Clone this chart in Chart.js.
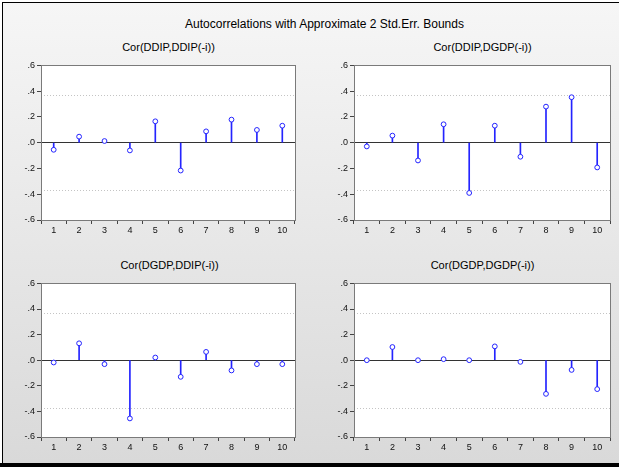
<!DOCTYPE html>
<html>
<head>
<meta charset="utf-8">
<script src="https://cdn.jsdelivr.net/npm/chart.js@4.4.0/dist/chart.umd.min.js"></script>
<style>
  html, body { margin: 0; padding: 0; background: #fff; }
  body { width: 619px; height: 467px; position: relative; overflow: hidden; font-family: "Liberation Sans", Arial, sans-serif; }
  #frame {
    position: absolute; left: 2px; top: 2px; width: 617px; height: 461px;
    border-top: 1px solid #000; border-left: 1px solid #000; box-sizing: border-box;
    background: linear-gradient(#f6f6f6, #d9d9d9);
  }
  #bottom { position: absolute; left: 0; top: 463px; width: 619px; height: 4px; background: #000; }
  .title { position: absolute; left: 15px; width: 619px; text-align: center; font-size: 12px; color: #000; }
  .sub { position: absolute; text-align: center; font-size: 11px; color: #000; }
  .panel { position: absolute; }
</style>
</head>
<body>
<div id="frame"></div>
<div id="bottom"></div>
<div class="title" style="top:17px;">Autocorrelations with Approximate 2 Std.Err. Bounds</div>
<div class="sub" style="left:41px;width:255px;top:41px;">Cor(DDIP,DDIP(-i))</div>
<div class="sub" style="left:354px;width:257px;top:41px;">Cor(DDIP,DGDP(-i))</div>
<div class="sub" style="left:42px;width:255px;top:259px;">Cor(DGDP,DDIP(-i))</div>
<div class="sub" style="left:354px;width:257px;top:259px;">Cor(DGDP,DGDP(-i))</div>

<div class="panel" style="left:10px;top:58px;width:290px;height:177px;"><canvas id="c1"></canvas></div>
<div class="panel" style="left:323px;top:58px;width:292px;height:177px;"><canvas id="c2"></canvas></div>
<div class="panel" style="left:10px;top:276px;width:290px;height:176px;"><canvas id="c3"></canvas></div>
<div class="panel" style="left:323px;top:276px;width:292px;height:176px;"><canvas id="c4"></canvas></div>

<script>
// lags and correlation values
const lags = ['1', '2', '3', '4', '5', '6', '7', '8', '9', '10'];
const ddipDdip = [-0.055, 0.047, 0.013, -0.060, 0.166, -0.216, 0.088, 0.179, 0.099, 0.132];
const ddipDgdp = [-0.029, 0.055, -0.138, 0.143, -0.390, 0.132, -0.109, 0.280, 0.353, -0.192];
const dgdpDdip = [-0.018, 0.132, -0.031, -0.455, 0.021, -0.130, 0.065, -0.080, -0.031, -0.031];
const dgdpDgdp = [0.000, 0.103, 0.000, 0.008, 0.000, 0.108, -0.013, -0.263, -0.076, -0.226];
const stdErrBound = 0.37;

const STEM = '#2424ff';

// white plot area, dotted bounds, frame
const plotDeco = {
  id: 'plotDeco',
  beforeDraw(chart) {
    const { ctx, chartArea: a } = chart;
    ctx.save();
    ctx.fillStyle = '#fff';
    ctx.fillRect(a.left, a.top, a.right - a.left, a.bottom - a.top);
    ctx.restore();
  },
  beforeDatasetsDraw(chart) {
    const { ctx, chartArea: a, scales } = chart;
    ctx.save();
    ctx.strokeStyle = '#c4c4c4';
    ctx.lineWidth = 1;
    ctx.setLineDash([1, 2]);
    [stdErrBound, -stdErrBound].forEach(v => {
      const y = Math.round(scales.y.getPixelForValue(v)) + 0.5;
      ctx.beginPath();
      ctx.moveTo(a.left, y);
      ctx.lineTo(a.right, y);
      ctx.stroke();
    });
    ctx.restore();
  },
  afterDraw(chart) {
    const { ctx, chartArea: a } = chart;
    ctx.save();
    ctx.strokeStyle = '#7a7a7a';
    ctx.lineWidth = 1;
    ctx.strokeRect(Math.round(a.left) + 0.5, Math.round(a.top) + 0.5,
      Math.round(a.right - a.left), Math.round(a.bottom - a.top));
    ctx.restore();
  }
};

function makeCorrChart(id, values) {
  const ctx = document.getElementById(id);
  return new Chart(ctx, {
    type: 'bar',
    data: {
      labels: lags,
      datasets: [
        {
          type: 'line',
          data: values,
          showLine: false,
          pointRadius: 2.4,
          pointBorderWidth: 1,
          pointBorderColor: STEM,
          pointBackgroundColor: '#fff',
          order: 0
        },
        {
          data: values,
          backgroundColor: STEM,
          barThickness: 1,
          order: 1
        }
      ]
    },
    options: {
      responsive: true,
      maintainAspectRatio: false,
      animation: false,
      layout: { padding: { top: 0, right: 4, left: 0, bottom: 0 } },
      plugins: { legend: { display: false }, tooltip: { enabled: false } },
      scales: {
        x: {
          offset: true,
          border: { display: false },
          grid: { offset: true, drawOnChartArea: false, tickLength: 4, tickColor: '#444' },
          ticks: { color: '#111', font: { family: '"Liberation Sans", Arial', size: 9 }, padding: 1, maxRotation: 0 },
          afterFit(s) { s.height = 15; }
        },
        y: {
          min: -0.6,
          max: 0.6,
          border: { display: false },
          grid: {
            color: c => (Math.abs(c.tick.value) < 1e-6 ? '#333' : 'rgba(0,0,0,0)'),
            tickColor: '#444',
            tickLength: 4
          },
          ticks: {
            stepSize: 0.2,
            color: '#111',
            font: { family: '"Liberation Sans", Arial', size: 9 },
            padding: 2,
            callback: v => v.toFixed(1).replace('0.', '.')
          },
          afterFit(s) { s.width = 31; }
        }
      }
    },
    plugins: [plotDeco]
  });
}

makeCorrChart('c1', ddipDdip);
makeCorrChart('c2', ddipDgdp);
makeCorrChart('c3', dgdpDdip);
makeCorrChart('c4', dgdpDgdp);
</script>
</body>
</html>
